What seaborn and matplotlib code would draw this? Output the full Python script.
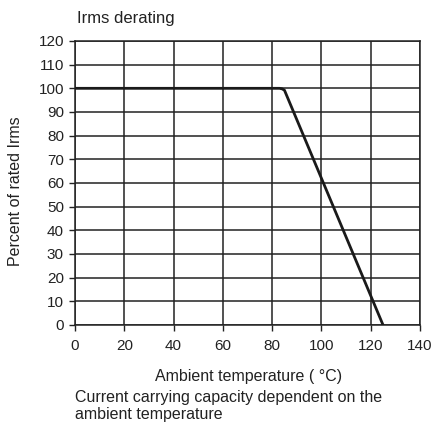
import numpy as np
import pandas as pd
import seaborn as sns
import matplotlib.pyplot as plt

# derating curve
temp_c = [0, 83, 84, 85, 125]
pct_irms = [100, 100, 99.8, 99.2, 0]
x_ticks = [0, 20, 40, 60, 80, 100, 120, 140]
y_ticks = [0, 10, 20, 30, 40, 50, 60, 70, 80, 90, 100, 110, 120]

sns.set_style("white")
plt.rcParams['font.family'] = ['Liberation Sans', 'DejaVu Sans']
plt.rcParams['font.size'] = 11

df = pd.DataFrame({"temp": temp_c, "pct": pct_irms})

fig = plt.figure(figsize=(4.35, 4.23), dpi=100)
ax = fig.add_axes([0.1724, 0.2317, 0.7931, 0.6714])

sns.lineplot(data=df, x="temp", y="pct", ax=ax, color="#1a1a1a", linewidth=2.0,
             sort=False, solid_joinstyle="round", zorder=3)

ax.set_xlim(0, 140)
ax.set_ylim(0, 120)
ax.set_xticks(x_ticks)
ax.set_yticks(y_ticks)
ax.grid(True, color="#222222", linewidth=1.1)
ax.set_axisbelow(True)
for s in ax.spines.values():
    s.set_color("#222222")
    s.set_linewidth(1.1)
ax.tick_params(bottom=True, left=True, top=False, right=False,
               direction="out", length=4, width=1, color="#222222",
               labelsize=11, labelcolor="#222222", pad=4)
ax.tick_params(axis="x", pad=6)

ax.set_xlabel("")
ax.set_ylabel("")
fig.text(249 / 435, 1 - 376 / 423, "Ambient temperature ( °C)", fontsize=11.5,
         color="#222222", ha="center", va="center")
fig.text(16 / 435, 1 - 191 / 423, "Percent of rated Irms", fontsize=11.5,
         color="#222222", ha="center", va="center", rotation=90)

fig.text(77 / 435, 1 - 18 / 423, "Irms derating", fontsize=12, color="#222222",
         va="center", ha="left")
fig.text(75 / 435, 1 - 406 / 423,
         "Current carrying capacity dependent on the\nambient temperature",
         fontsize=11.5, color="#222222", va="center", ha="left", linespacing=1.12)

fig.savefig("out.png", dpi=100)
